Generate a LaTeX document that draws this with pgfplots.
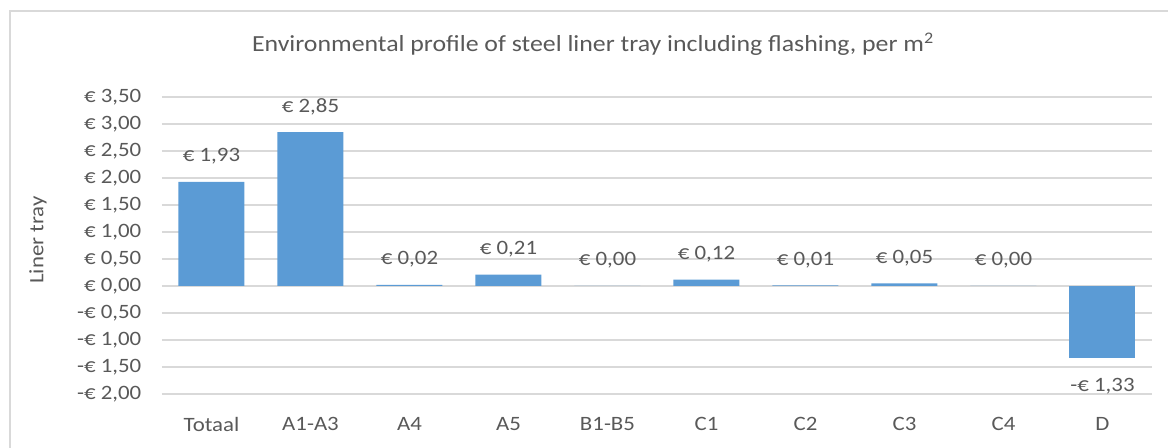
\documentclass[border=0pt]{standalone}
\usepackage{pgfplots}
\pgfplotsset{compat=1.18}
\usepackage{fontspec}
\setmainfont{Carlito}[FakeStretch=1.12]
\definecolor{barblue}{HTML}{5B9BD5}
\definecolor{txtgray}{HTML}{595959}
\definecolor{gridgray}{HTML}{D9D9D9}
\newcommand{\lblfont}{\fontsize{15.3}{18}\selectfont}
\begin{document}
\begin{tikzpicture}
\useasboundingbox (-121.5pt,-40.5pt) rectangle (754.5pt,295.5pt);
\begin{axis}[
    at={(0,0)}, anchor=south west,
    scale only axis,
    width=742.5pt, height=222.75pt,
    ybar, bar width=49.5pt, bar shift=0pt,
    xmin=-0.5, xmax=9.5,
    ymin=-2, ymax=3.5,
    xtick={0,...,9},
    xticklabels={Totaal,A1-A3,A4,A5,B1-B5,C1,C2,C3,C4,D},
    ytick={-2,-1.5,-1,-0.5,0,0.5,1,1.5,2,2.5,3,3.5},
    yticklabels={{-€ 2,00},{-€ 1,50},{-€ 1,00},{-€ 0,50},{€ 0,00},{€ 0,50},{€ 1,00},{€ 1,50},{€ 2,00},{€ 2,50},{€ 3,00},{€ 3,50}},
    ymajorgrids, grid style={gridgray, line width=1.2pt},
    axis line style={draw=none},
    major tick length=0pt,
    tick label style={font=\lblfont, text=txtgray},
    xticklabel style={yshift=-14pt},
    yticklabel style={xshift=-12pt},
    point meta=explicit symbolic,
    nodes near coords,
    nodes near coords style={font=\lblfont, text=txtgray},
    clip=false,
]
\addplot[fill=barblue, draw=none, nodes near coords style={anchor=center, yshift=19pt}] coordinates {
    (0,1.93) [€ 1,93]
    (1,2.85) [€ 2,85]
    (2,0.02) [€ 0,02]
    (3,0.21) [€ 0,21]
    (4,0.00) [€ 0,00]
    (5,0.12) [€ 0,12]
    (6,0.01) [€ 0,01]
    (7,0.05) [€ 0,05]
    (8,0.00) [€ 0,00]
};
\addplot[fill=barblue, draw=none, nodes near coords style={anchor=center, yshift=-21pt}] coordinates {
    (9,-1.33) [-€ 1,33]
};
\end{axis}
\node[font=\fontsize{17.3}{21}\selectfont, text=txtgray] at (323.25pt,262.5pt) {Environmental profile of steel liner tray including flashing, per m\textsuperscript{2}};
\node[font=\lblfont, text=txtgray, rotate=90] at (-93pt,115.5pt) {Liner tray};
\draw[gridgray, line width=1pt] (-114pt,-40.5pt) -- (-114pt,287.25pt) -- (754.5pt,287.25pt);
\end{tikzpicture}
\end{document}
